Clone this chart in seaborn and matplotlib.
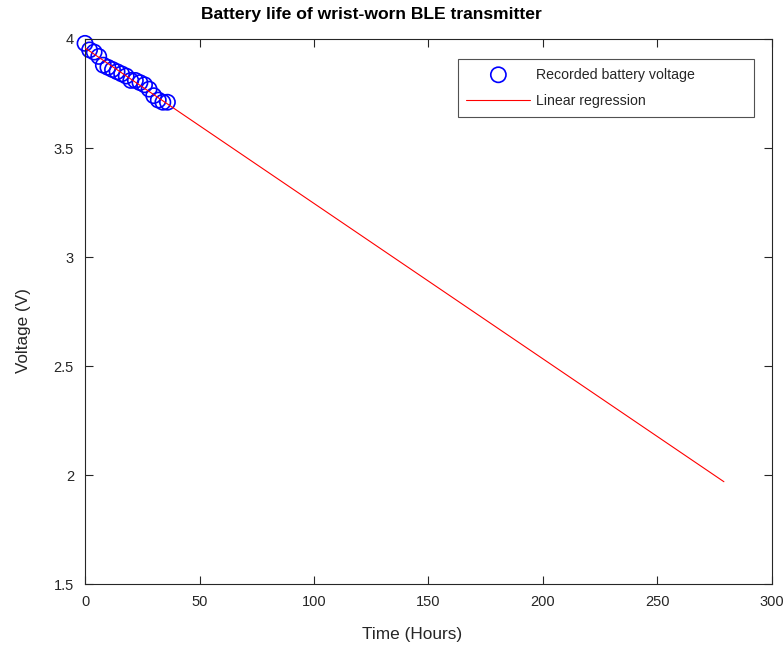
import numpy as np
import pandas as pd
import matplotlib
matplotlib.use("Agg")
import matplotlib.pyplot as plt
import seaborn as sns

hours = [0, 2, 4, 6, 8, 10, 12, 14, 16, 18, 20, 22, 24, 26, 28, 30, 32, 34, 36]
voltage = [3.98, 3.95, 3.94, 3.92, 3.88, 3.87, 3.86, 3.85, 3.84, 3.83, 3.81,
           3.81, 3.80, 3.79, 3.77, 3.74, 3.72, 3.71, 3.71]
fit_range = [0, 279]

sns.set_theme(style="white")
plt.rcParams['font.family'] = ['Liberation Sans', 'DejaVu Sans']

fig = plt.figure(figsize=(7.83, 6.45), dpi=100)
ax = fig.add_axes([85/783, 1-584/645, (772-85)/783, (584-39)/645])

df = pd.DataFrame({"t": hours, "v": voltage})
slope, intercept = np.polyfit(hours, voltage, 1)
fx = np.array(fit_range, dtype=float)
fit_df = pd.DataFrame({"t": fx, "v": intercept + slope * fx})

sns.lineplot(data=fit_df, x="t", y="v", ax=ax, color="red", linewidth=0.8,
             label="Linear regression", zorder=3)
sns.scatterplot(data=df, x="t", y="v", ax=ax, marker="o", s=120,
                facecolors="none", edgecolor="blue", linewidth=1.2,
                label="Recorded battery voltage", zorder=2, clip_on=False)

ax.set_xlim(0, 300)
ax.set_ylim(1.5, 4)
ax.set_xticks([0, 50, 100, 150, 200, 250, 300])
ax.set_yticks([1.5, 2, 2.5, 3, 3.5, 4])
ax.set_yticklabels(["1.5", "2", "2.5", "3", "3.5", "4"])
ax.set_xlabel("")
ax.set_ylabel("")
gray = "#262626"
for s in ax.spines.values():
    s.set_color(gray)
    s.set_linewidth(0.8)
ax.tick_params(direction="in", length=6, width=0.8, colors=gray,
               top=True, right=True, bottom=True, left=True,
               labelsize=10.5, pad=8)
for lab in ax.get_xticklabels() + ax.get_yticklabels():
    lab.set_color(gray)

handles, labels = ax.get_legend_handles_labels()
order = [labels.index("Recorded battery voltage"), labels.index("Linear regression")]
x0 = (458-85)/687
y1 = 1-(59-39)/545
w = (754-458)/687
h = (118-59)/545
leg = ax.legend([handles[i] for i in order], [labels[i] for i in order],
                loc="upper left", bbox_to_anchor=(x0, y1-h, w, h), mode="expand",
                frameon=True, fancybox=False, fontsize=10.2, borderpad=0.6,
                labelspacing=0.9, handlelength=4.5, handletextpad=0.4,
                borderaxespad=0)
leg.get_frame().set_edgecolor(gray)
leg.get_frame().set_linewidth(0.8)

fig.text(371.5/783, 1-15/645, "Battery life of wrist-worn BLE transmitter",
         ha="center", va="center", fontsize=12.6, fontweight="bold", color="black")
fig.text(412.5/783, 1-635/645, "Time (Hours)", ha="center", va="center",
         fontsize=12.4, color=gray)
fig.text(24/783, 1-331/645, "Voltage (V)", ha="center", va="center",
         rotation=90, fontsize=12.3, color=gray)

fig.savefig("out.png", dpi=100, facecolor="white")
